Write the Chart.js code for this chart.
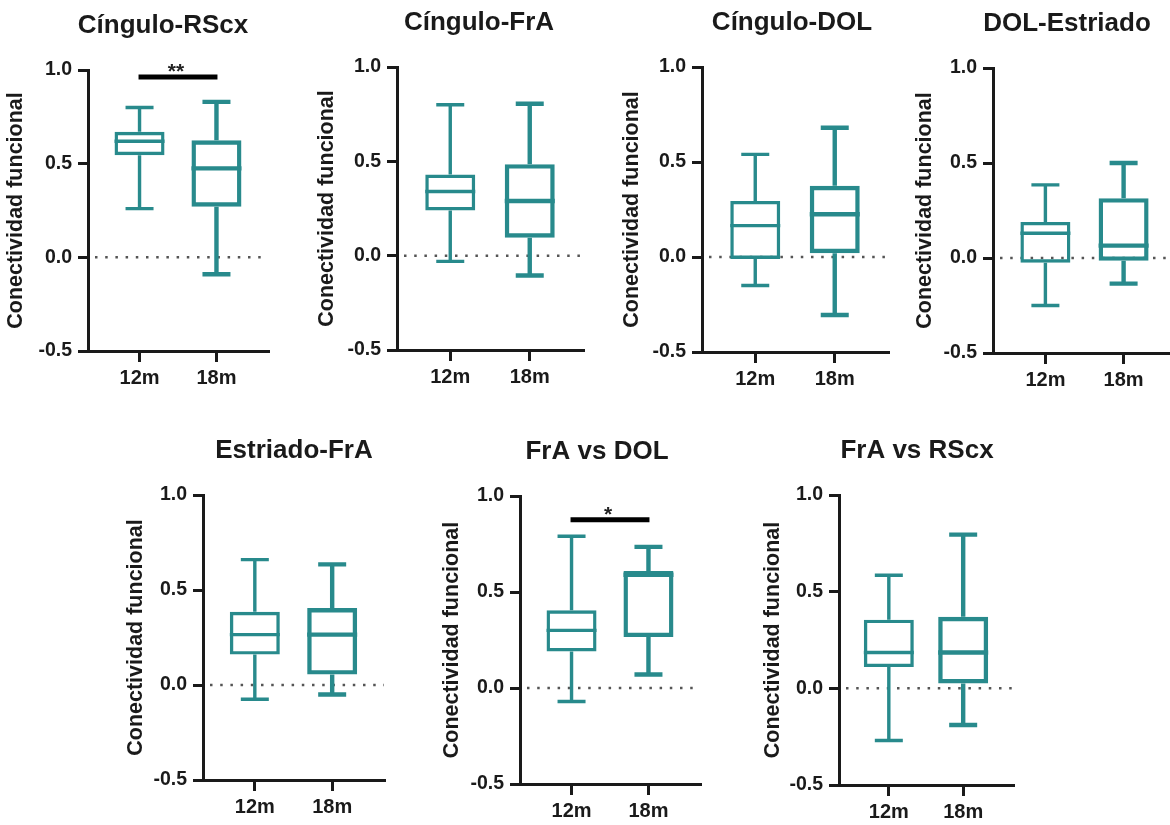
<!DOCTYPE html>
<html>
<head>
<meta charset="utf-8">
<script src="https://cdn.jsdelivr.net/npm/chart.js@4.4.0/dist/chart.umd.min.js"></script>
<style>
  html, body { margin: 0; padding: 0; background: #fff; width: 1170px; height: 825px; overflow: hidden; position: relative; }
  canvas { position: absolute; }
</style>
</head>
<body>
<script>
// data
const panelTitles = ['Cíngulo-RScx', 'Cíngulo-FrA', 'Cíngulo-DOL', 'DOL-Estriado', 'Estriado-FrA', 'FrA vs DOL', 'FrA vs RScx'];
const groups = ['12m', '18m'];
const yTicks = [-0.5, 0, 0.5, 1.0];
const yTitle = 'Conectividad funcional';

const min12 = [0.26, -0.03, -0.15, -0.25, -0.075, -0.07, -0.27];
const q1_12 = [0.545, 0.24, -0.01, -0.025, 0.16, 0.19, 0.11];
const med12 = [0.62, 0.34, 0.165, 0.13, 0.265, 0.30, 0.185];
const q3_12 = [0.67, 0.43, 0.295, 0.19, 0.385, 0.405, 0.355];
const max12 = [0.80, 0.80, 0.54, 0.385, 0.66, 0.79, 0.585];

const min18 = [-0.09, -0.105, -0.305, -0.135, -0.05, 0.07, -0.19];
const q1_18 = [0.27, 0.095, 0.02, -0.015, 0.055, 0.265, 0.025];
const med18 = [0.475, 0.29, 0.225, 0.065, 0.265, 0.59, 0.185];
const q3_18 = [0.625, 0.485, 0.375, 0.315, 0.405, 0.61, 0.37];
const max18 = [0.83, 0.805, 0.68, 0.50, 0.635, 0.735, 0.795];

const sigY = [0.963, null, null, null, null, 0.876, null];
const sigText = ['**', '', '', '', '', '*', ''];

const TEAL = '#288a8c';
const INK = '#1a1a1a';
const FONT = "'Liberation Sans', Arial, Helvetica, sans-serif";
const lineW = [3.4, 4.4];

// plot area of every panel on the page
const frames = [
  {l: 88, r: 268, t: 70, b: 351, tx: 163, gap: 72},
  {l: 397, r: 583, t: 67, b: 350, tx: 479, gap: 70},
  {l: 702, r: 888, t: 67, b: 352, tx: 792, gap: 70},
  {l: 993, r: 1176, t: 68, b: 353, tx: 1067, gap: 68},
  {l: 203, r: 384, t: 495, b: 780, tx: 294, gap: 67},
  {l: 520, r: 700, t: 496, b: 784, tx: 597, gap: 68},
  {l: 839, r: 1013, t: 495, b: 785, tx: 917, gap: 66}
];
const PL = 85, PT = 66, PR = 2, PB = 50;

const boxParts = {
  id: 'boxParts',
  beforeDatasetsDraw(chart) {
    const {ctx, chartArea, scales: {y}} = chart;
    const y0 = y.getPixelForValue(0);
    ctx.save();
    ctx.strokeStyle = '#555';
    ctx.lineWidth = 2.5;
    ctx.setLineDash([2.5, 7.7]);
    ctx.beginPath();
    ctx.moveTo(chartArea.left + 7, y0);
    ctx.lineTo(chartArea.right, y0);
    ctx.stroke();
    ctx.restore();
  },
  afterDatasetsDraw(chart, args, opts) {
    const {ctx, scales: {x, y}} = chart;
    const i = opts.index;
    const stats = [
      [min12[i], q1_12[i], med12[i], q3_12[i], max12[i]],
      [min18[i], q1_18[i], med18[i], q3_18[i], max18[i]]
    ];
    stats.forEach((s, k) => {
      const cx = x.getPixelForValue(k + 1);
      const p = s.map(v => y.getPixelForValue(v));
      ctx.save();
      ctx.strokeStyle = TEAL;
      ctx.lineWidth = lineW[k];
      ctx.beginPath();
      ctx.moveTo(cx, p[3]); ctx.lineTo(cx, p[4]);
      ctx.moveTo(cx, p[1]); ctx.lineTo(cx, p[0]);
      ctx.moveTo(cx - 14, p[4]); ctx.lineTo(cx + 14, p[4]);
      ctx.moveTo(cx - 14, p[0]); ctx.lineTo(cx + 14, p[0]);
      ctx.moveTo(cx - 25, p[2]); ctx.lineTo(cx + 25, p[2]);
      ctx.stroke();
      ctx.restore();
    });
    if (sigY[i] !== null) {
      const x1 = x.getPixelForValue(1), x2 = x.getPixelForValue(2);
      const yy = y.getPixelForValue(sigY[i]);
      ctx.save();
      ctx.strokeStyle = '#000';
      ctx.lineWidth = 5;
      ctx.beginPath();
      ctx.moveTo(x1 - 1, yy); ctx.lineTo(x2 + 1, yy);
      ctx.stroke();
      ctx.fillStyle = '#222';
      ctx.font = 'bold 21px ' + FONT;
      ctx.textAlign = 'center';
      ctx.textBaseline = 'alphabetic';
      ctx.fillText(sigText[i], (x1 + x2) / 2 - 2, yy + 1);
      ctx.restore();
    }
  },
  afterDraw(chart, args, opts) {
    const {ctx, chartArea} = chart;
    ctx.save();
    ctx.fillStyle = INK;
    ctx.font = 'bold 26px ' + FONT;
    ctx.textAlign = 'center';
    ctx.textBaseline = 'alphabetic';
    ctx.fillText(panelTitles[opts.index], opts.titleX, chartArea.top - 37);
    ctx.restore();
  }
};

panelTitles.forEach((title, i) => {
  const f = frames[i];
  const w = f.r - f.l + PL + PR, h = f.b - f.t + PT + PB;
  const cv = document.createElement('canvas');
  cv.width = w; cv.height = h;
  cv.style.left = (f.l - PL) + 'px';
  cv.style.top = (f.t - PT) + 'px';
  cv.style.width = w + 'px';
  cv.style.height = h + 'px';
  document.body.appendChild(cv);

  new Chart(cv.getContext('2d'), {
    type: 'bar',
    data: {
      datasets: [{
        data: [
          {x: 1, y: [q1_12[i], q3_12[i]]},
          {x: 2, y: [q1_18[i], q3_18[i]]}
        ],
        backgroundColor: 'rgba(0,0,0,0)',
        borderColor: TEAL,
        borderWidth: lineW,
        borderSkipped: false,
        barThickness: 50,
        inflateAmount: 0
      }]
    },
    options: {
      responsive: false,
      animation: false,
      devicePixelRatio: 1,
      layout: {padding: {top: PT, right: PR, left: 0, bottom: 0}},
      plugins: {
        legend: {display: false},
        tooltip: {enabled: false},
        boxParts: {index: i, titleX: f.tx - (f.l - PL)}
      },
      scales: {
        x: {
          type: 'linear',
          min: 0.33,
          max: 2.67,
          offset: false,
          afterBuildTicks: s => { s.ticks = groups.map((g, k) => ({value: k + 1})); },
          afterFit: s => { s.height = PB; },
          ticks: {
            callback: v => groups[v - 1],
            font: {family: FONT, size: 20, weight: 'bold'},
            color: INK,
            padding: 4,
            autoSkip: false,
            maxRotation: 0
          },
          grid: {drawOnChartArea: false, offset: false, tickLength: 11, tickWidth: 3, lineWidth: 3, tickColor: INK},
          border: {width: 3, color: INK}
        },
        y: {
          min: -0.5,
          max: 1.0,
          afterBuildTicks: s => { s.ticks = yTicks.map(v => ({value: v})); },
          afterFit: s => { s.width = PL; },
          ticks: {
            callback: v => v.toFixed(1),
            font: {family: FONT, size: 19.5, weight: 'bold'},
            color: INK,
            padding: 6
          },
          grid: {drawOnChartArea: false, tickLength: 10, tickWidth: 3, lineWidth: 3, tickColor: INK},
          border: {width: 3, color: INK},
          title: {
            display: true,
            text: yTitle,
            color: INK,
            font: {family: FONT, size: 21.5, weight: 'bold'},
            padding: {top: Math.max(0, PL - f.gap - 12.9), bottom: 0}
          }
        }
      }
    },
    plugins: [boxParts]
  });
});
</script>
</body>
</html>
